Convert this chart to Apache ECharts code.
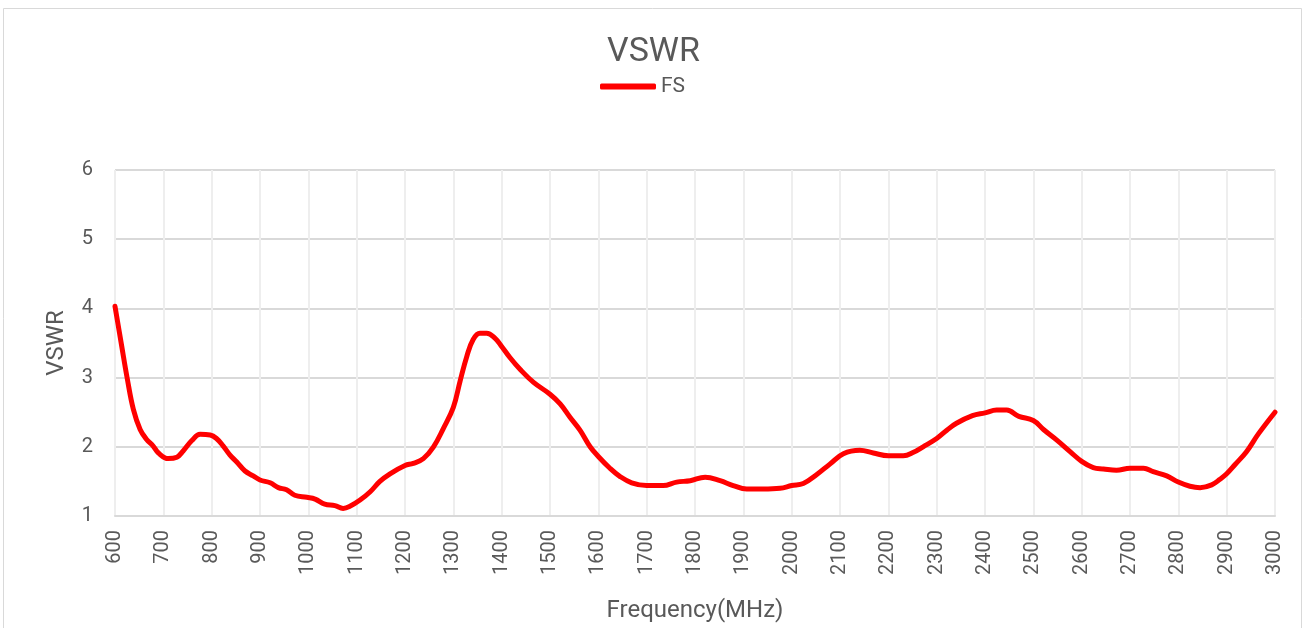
<!DOCTYPE html>
<html>
<head>
<meta charset="utf-8">
<title>VSWR</title>
<script src="https://cdn.jsdelivr.net/npm/echarts@6/dist/echarts.min.js"></script>
<style>
    html, body { margin: 0; padding: 0; background: #fff; }
    #main { width: 1307px; height: 628px; }
</style>
</head>
<body>
<div id="main"></div>
<script>
let freq = [600, 614, 625, 638, 652, 665, 679, 690, 710, 728, 741, 759, 776, 797, 810, 824, 838, 852, 869, 886,
    900, 921, 938, 955, 972, 997, 1014, 1034, 1055, 1072, 1086, 1107, 1128, 1148, 1169, 1200, 1217, 1238, 1259, 1279,
    1300, 1314, 1328, 1341, 1355, 1369, 1386, 1400, 1417, 1438, 1466, 1500, 1521, 1541, 1562, 1583, 1600, 1624, 1645, 1669,
    1700, 1734, 1762, 1790, 1821, 1852, 1879, 1907, 1941, 1976, 2000, 2024, 2052, 2079, 2107, 2141, 2169, 2200, 2231, 2252,
    2272, 2300, 2321, 2341, 2374, 2400, 2424, 2445, 2470, 2500, 2521, 2548, 2576, 2600, 2624, 2645, 2672, 2700, 2728, 2748,
    2776, 2800, 2824, 2845, 2869, 2886, 2900, 2917, 2941, 2966, 3000];
let vswr = [4.03, 3.45, 3.0, 2.54, 2.25, 2.11, 2.01, 1.91, 1.83, 1.85, 1.94, 2.09, 2.18, 2.17, 2.12, 2.01, 1.88, 1.78, 1.65, 1.58,
    1.52, 1.48, 1.41, 1.38, 1.30, 1.27, 1.245, 1.17, 1.15, 1.11, 1.14, 1.23, 1.35, 1.50, 1.61, 1.73, 1.76, 1.83, 2.0, 2.26,
    2.57, 2.95, 3.31, 3.55, 3.64, 3.64, 3.57, 3.45, 3.29, 3.12, 2.93, 2.76, 2.62, 2.43, 2.24, 2.0, 1.86, 1.69, 1.57, 1.48,
    1.44, 1.44, 1.49, 1.51, 1.56, 1.51, 1.44, 1.39, 1.39, 1.40, 1.44, 1.47, 1.60, 1.75, 1.90, 1.95, 1.91, 1.87, 1.87, 1.92,
    2.0, 2.12, 2.24, 2.34, 2.45, 2.49, 2.53, 2.53, 2.44, 2.38, 2.25, 2.10, 1.93, 1.79, 1.70, 1.68, 1.66, 1.69, 1.69, 1.64,
    1.58, 1.49, 1.43, 1.41, 1.45, 1.53, 1.61, 1.74, 1.93, 2.19, 2.50];

let textColor = '#595959';
let fontName = 'Roboto';

let myChart = echarts.init(document.getElementById('main'));
let option = {
    animation: false,
    backgroundColor: '#fff',
    textStyle: { fontFamily: fontName },
    graphic: [{
        type: 'rect',
        shape: { x: 3.5, y: 8.5, width: 1298, height: 640 },
        style: { fill: 'none', stroke: '#d9d9d9', lineWidth: 1 },
        silent: true
    }],
    title: {
        text: 'VSWR',
        left: 'center',
        top: 30,
        textStyle: { color: textColor, fontSize: 34, fontWeight: 'normal', fontFamily: fontName }
    },
    legend: {
        left: 595,
        top: 71,
        itemWidth: 56,
        itemHeight: 6,
        itemGap: 10,
        data: [{ name: 'FS', icon: 'roundRect' }],
        itemStyle: { color: '#ff0000' },
        textStyle: { color: textColor, fontSize: 21, fontFamily: fontName }
    },
    grid: {
        left: 115,
        right: 32,
        top: 170,
        bottom: 111
    },
    xAxis: {
        type: 'value',
        min: 600,
        max: 3000,
        interval: 100,
        name: 'Frequency(MHz)',
        nameLocation: 'middle',
        nameGap: 83,
        nameTextStyle: { color: textColor, fontSize: 24, fontFamily: fontName },
        axisLine: { show: true, lineStyle: { color: '#d9d9d9', width: 2 } },
        axisTick: { show: false },
        axisLabel: {
            rotate: 90, color: textColor, fontSize: 20, margin: 14, fontFamily: fontName,
            formatter: v => String(v)
        },
        splitLine: { show: true, lineStyle: { color: '#eeeeee', width: 2 } }
    },
    yAxis: {
        type: 'value',
        min: 1,
        max: 6,
        interval: 1,
        name: 'VSWR',
        nameLocation: 'middle',
        nameRotate: 90,
        nameGap: 46,
        nameTextStyle: { color: textColor, fontSize: 24, fontFamily: fontName },
        axisLine: { show: false },
        axisTick: { show: false },
        axisLabel: { color: textColor, fontSize: 20, margin: 22, fontFamily: fontName },
        splitLine: { show: true, lineStyle: { color: '#d9d9d9', width: 2 } }
    },
    series: [{
        name: 'FS',
        type: 'line',
        data: freq.map((f, i) => [f, vswr[i]]),
        smooth: 0.4,
        showSymbol: false,
        symbol: 'none',
        lineStyle: { color: '#ff0000', width: 5, cap: 'round' },
        itemStyle: { color: '#ff0000' }
    }]
};
myChart.setOption(option);
</script>
</body>
</html>
